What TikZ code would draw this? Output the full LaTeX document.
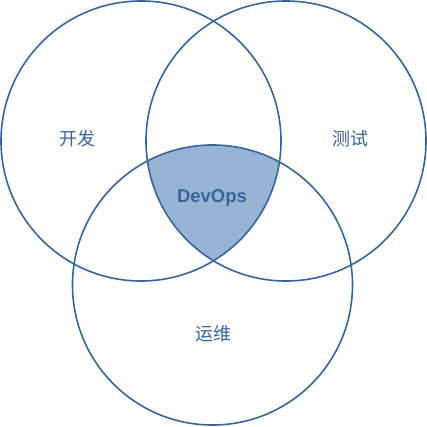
\documentclass[tikz,border=0pt]{standalone}
\usepackage{fontspec}
\setmainfont{Liberation Sans}
\newfontfamily\cjk{Noto Sans CJK SC}
\definecolor{stroke}{HTML}{386599}
\definecolor{fillc}{HTML}{97B4D4}
\definecolor{txt}{HTML}{3A6598}
\begin{document}
\begin{tikzpicture}[x=1pt,y=-1pt,
  ring/.style={draw=stroke,line width=1.6pt},
  lbl/.style={text=txt,font=\cjk\fontsize{18}{18}\selectfont,inner sep=0pt},
  core/.style={text=txt,font=\bfseries\fontsize{18.5}{18.5}\selectfont,inner sep=0pt}]
\useasboundingbox (0,0) rectangle (427,427);
\begin{scope}
  \clip (141,141) circle (140);
  \clip (286,141) circle (140);
  \fill[fillc] (212.5,285) circle (140);
\end{scope}
\node[ring,circle,minimum size=280pt,inner sep=0pt] (dev) at (141,141) {};
\node[ring,circle,minimum size=280pt,inner sep=0pt] (test) at (286,141) {};
\node[ring,circle,minimum size=280pt,inner sep=0pt] (ops) at (212.5,285) {};
\node[lbl] (devl) at (77,139) {开发};
\node[lbl] (testl) at (350,139) {测试};
\node[lbl] (opsl) at (213,334) {运维};
\node[core] (devops) at (212,198) {DevOps};
\end{tikzpicture}
\end{document}
